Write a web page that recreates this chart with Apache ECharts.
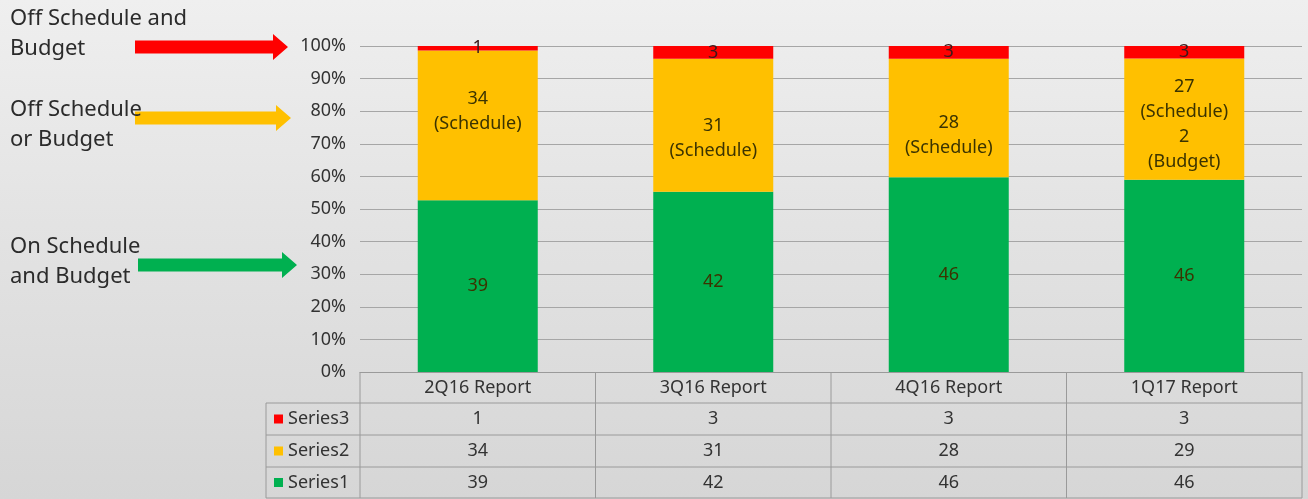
<!DOCTYPE html>
<html>
<head>
<meta charset="utf-8">
<script src="https://cdn.jsdelivr.net/npm/echarts@6/dist/echarts.min.js"></script>
<style>
	html, body { margin: 0; padding: 0; }
	#main {
		width: 1308px; height: 499px;
		background: linear-gradient(#efefef, #e3e3e3 45%, #d6d6d6);
	}
</style>
</head>
<body>
<div id="main"></div>
<script>
// 数据
var categories = ['2Q16 Report', '3Q16 Report', '4Q16 Report', '1Q17 Report'];
var seriesNames = ['Series1', 'Series2', 'Series3'];
var series1 = [39, 42, 46, 46]; // On Schedule and Budget
var series2 = [34, 31, 28, 29]; // Off Schedule or Budget
var series3 = [1, 3, 3, 3];     // Off Schedule and Budget
var series2Labels = ['34\n(Schedule)', '31\n(Schedule)', '28\n(Schedule)', '27\n(Schedule)\n2\n(Budget)'];
var yTicks = [0, 10, 20, 30, 40, 50, 60, 70, 80, 90, 100];

var colors = ['#00b050', '#ffc000', '#ff0000'];
var font = '"Noto Sans", sans-serif';
var textColor = '#333';

// 黄色标签的手动偏移(原图中标签被拖动过)
var series2LabelShift = [[0, -14], [0, 13], [0, 17], [0, 5]];

// 百分比
var totals = categories.map(function(c, i) { return series1[i] + series2[i] + series3[i]; });
function pct(arr) {
	return arr.map(function(v, i) { return { value: v / totals[i] * 100, raw: v }; });
}

var myChart = echarts.init(document.getElementById('main'));

var gridLeft = 360, gridRight = 1302, gridTop = 46, gridBottom = 372;
var colW = (gridRight - gridLeft) / categories.length;
var rowY = [gridBottom, 403, 435, 467, 498]; // 表格行线
var tableLeft = 266;

var graphics = [];

// 左侧注释
var notes = [
	{ text: 'Off Schedule and\nBudget', y: 4, color: colors[2], ay: 47, x0: 135, tip: 288 },
	{ text: 'Off Schedule\nor Budget', y: 95, color: colors[1], ay: 118, x0: 135, tip: 291 },
	{ text: 'On Schedule\nand Budget', y: 232, color: colors[0], ay: 265, x0: 138, tip: 297 }
];
notes.forEach(function(n) {
	graphics.push({
		type: 'polygon', z: 5,
		shape: { points: [
			[n.x0, n.ay - 6.5], [n.tip - 15, n.ay - 6.5], [n.tip - 15, n.ay - 13], [n.tip, n.ay],
			[n.tip - 15, n.ay + 13], [n.tip - 15, n.ay + 6.5], [n.x0, n.ay + 6.5]
		] },
		style: { fill: n.color }
	});
	graphics.push({
		type: 'text', left: 10, top: n.y, z: 10,
		style: { text: n.text, font: '22px ' + font, fill: '#2b2b2b', lineHeight: 30 }
	});
});

// 数据表格线
function hline(y, x1, x2) {
	graphics.push({ type: 'line', shape: { x1: x1, y1: y, x2: x2, y2: y }, style: { stroke: '#9a9a9a', lineWidth: 1 } });
}
function vline(x, y1, y2) {
	graphics.push({ type: 'line', shape: { x1: x, y1: y1, x2: x, y2: y2 }, style: { stroke: '#9a9a9a', lineWidth: 1 } });
}
for (var r = 1; r < rowY.length; r++) hline(rowY[r], tableLeft, gridRight);
vline(tableLeft, rowY[1], rowY[4]);
for (var c = 0; c <= categories.length; c++) vline(gridLeft + c * colW, rowY[0], rowY[4]);

// 表格内容 (Series3, Series2, Series1 从上到下)
var tableRows = [
	{ name: seriesNames[2], data: series3, color: colors[2] },
	{ name: seriesNames[1], data: series2, color: colors[1] },
	{ name: seriesNames[0], data: series1, color: colors[0] }
];
tableRows.forEach(function(row, r) {
	var cy = (rowY[r + 1] + rowY[r + 2]) / 2;
	graphics.push({ type: 'rect', shape: { x: 274, y: cy - 4.5, width: 9, height: 9 }, style: { fill: row.color } });
	graphics.push({
		type: 'text', x: 288, y: cy,
		style: { text: row.name, font: '18px ' + font, fill: textColor, verticalAlign: 'middle' }
	});
	row.data.forEach(function(v, i) {
		graphics.push({
			type: 'text', x: gridLeft + (i + 0.5) * colW, y: cy,
			style: { text: String(v), font: '18px ' + font, fill: textColor, align: 'center', verticalAlign: 'middle' }
		});
	});
});

var labelStyle = {
	show: true, position: 'inside', color: '#3b3300', fontFamily: font, fontSize: 18, lineHeight: 25,
	formatter: function(p) { return p.data.raw; }
};

var option = {
	backgroundColor: 'transparent',
	animation: false,
	color: colors,
	grid: { left: gridLeft, right: 1308 - gridRight, top: gridTop, bottom: 499 - gridBottom, containLabel: false },
	xAxis: {
		type: 'category',
		data: categories,
		axisLine: { show: true, lineStyle: { color: '#9a9a9a' } },
		axisTick: { show: false },
		axisLabel: { color: textColor, fontFamily: font, fontSize: 18, margin: 7 }
	},
	yAxis: {
		type: 'value',
		min: 0, max: 100, interval: 10,
		axisLine: { show: false },
		axisTick: { show: false },
		splitLine: { lineStyle: { color: '#a6a6a6', width: 1 } },
		axisLabel: {
			color: textColor, fontFamily: font, fontSize: 18, margin: 14,
			formatter: function(v) { return yTicks.indexOf(v) >= 0 ? v + '%' : ''; }
		}
	},
	series: [
		{
			name: seriesNames[0], type: 'bar', stack: 'total', barWidth: 120,
			data: pct(series1),
			label: labelStyle
		},
		{
			name: seriesNames[1], type: 'bar', stack: 'total', barWidth: 120,
			data: pct(series2).map(function(d, i) {
				d.label = { offset: series2LabelShift[i] };
				return d;
			}),
			label: Object.assign({}, labelStyle, {
				formatter: function(p) { return series2Labels[p.dataIndex]; }
			})
		},
		{
			name: seriesNames[2], type: 'bar', stack: 'total', barWidth: 120,
			data: pct(series3),
			label: Object.assign({}, labelStyle, { color: '#3a1a1a' })
		}
	],
	graphic: graphics
};

myChart.setOption(option);
</script>
</body>
</html>
